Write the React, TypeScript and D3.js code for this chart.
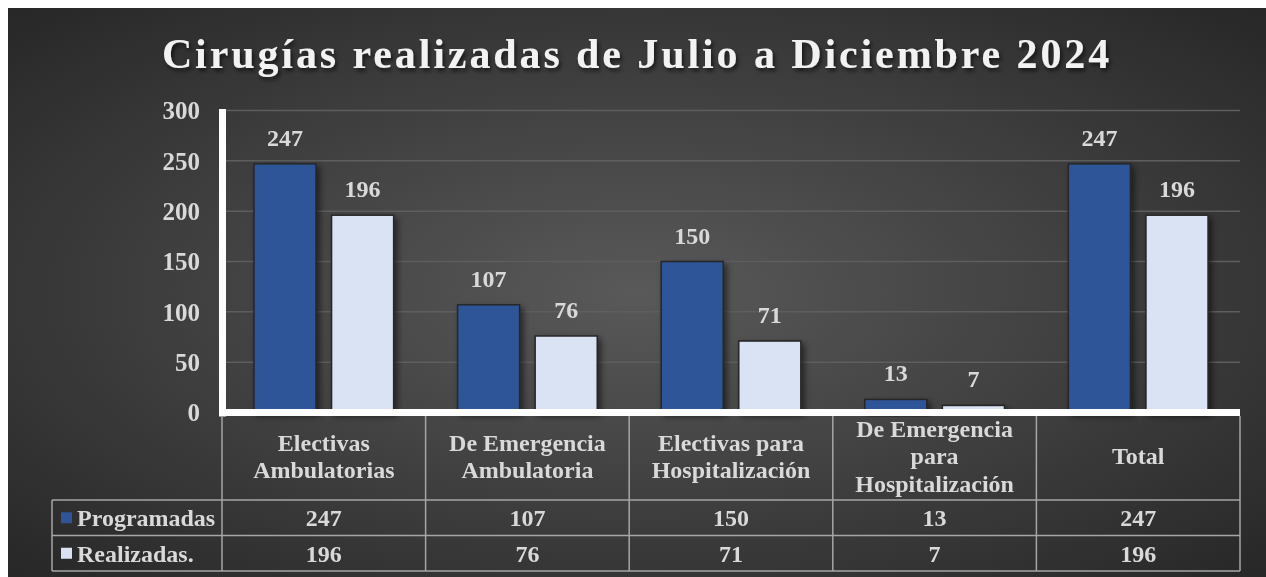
import * as d3 from 'd3';

const CATEGORIES = [
  ['Electivas', 'Ambulatorias'],
  ['De Emergencia', 'Ambulatoria'],
  ['Electivas para', 'Hospitalización'],
  ['De Emergencia', 'para', 'Hospitalización'],
  ['Total'],
];
const SERIES = ['Programadas', 'Realizadas.'];
const PROGRAMADAS = [247, 107, 150, 13, 247];
const REALIZADAS = [196, 76, 71, 7, 196];
const Y_TICKS = [0, 50, 100, 150, 200, 250, 300];
const COLORS = ['#2f5597', '#dae3f3'];

const W = 1258, H = 569;
const OX = 8, OY = 8; // page offset of svg (body margin)
const FONT = '"Liberation Serif", "Times New Roman", serif';
const TXT = '#d9d9d9';

export default function App() {
  const values = [PROGRAMADAS, REALIZADAS];
  const keys = CATEGORIES.map((_, i) => String(i));
  const x0 = d3.scaleBand().domain(keys).range([222 - OX, 1240 - OX]).padding(0);
  const bw = x0.bandwidth();
  const x1 = d3.scaleBand().domain(SERIES).range([bw * 0.157, bw * 0.843]).paddingInner(0.2);
  const y = d3.scaleLinear().domain([0, 300]).range([412.5 - OY, 110.5 - OY]);

  const plotL = 222 - OX, plotR = 1240 - OX;
  const tableTop = 416 - OY, hdrBottom = 500 - OY, row1Bottom = 535.5 - OY, tableBottom = 571 - OY;
  const legendL = 52 - OX;
  const rowsY = [[hdrBottom, row1Bottom], [row1Bottom, tableBottom]];
  const colEdges = [...keys.map(k => x0(k)!), plotR];

  return (
    <div style={{ position: 'fixed', left: OX, top: OY }}>
      <svg width={W} height={H} style={{ display: 'block', fontFamily: FONT }}>
        <defs>
          <radialGradient id="bg" cx="0.5" cy="0.5" r="0.72">
            <stop offset="0" stopColor="#595959" />
            <stop offset="1" stopColor="#262626" />
          </radialGradient>
          <filter id="sh" x="-20%" y="-20%" width="150%" height="150%">
            <feDropShadow dx="3" dy="3" stdDeviation="3" floodColor="#000" floodOpacity="0.55" />
          </filter>
          <filter id="tsh" x="-5%" y="-30%" width="110%" height="170%">
            <feDropShadow dx="2" dy="3" stdDeviation="2" floodColor="#000" floodOpacity="0.6" />
          </filter>
        </defs>
        <rect width={W} height={H} fill="url(#bg)" />

        <text x={637 - OX} y={68 - OY} textAnchor="middle" fill="#f2f2f2" fontSize={42}
          fontWeight="bold" letterSpacing={2.9} filter="url(#tsh)">
          Cirugías realizadas de Julio a Diciembre 2024
        </text>

        {/* gridlines */}
        {Y_TICKS.filter(t => t > 0).map(t => (
          <line key={t} x1={plotL} x2={plotR} y1={y(t)} y2={y(t)} stroke="#5e5e5e" strokeWidth={1.5} />
        ))}
        {Y_TICKS.map(t => (
          <text key={t} x={200 - OX} y={y(t)} dy="0.35em" textAnchor="end" fill={TXT}
            fontSize={25} fontWeight="bold">{t}</text>
        ))}

        {/* bars */}
        {keys.map((k, ci) => (
          <g key={k} transform={`translate(${x0(k)},0)`}>
            {SERIES.map((s, si) => {
              const v = values[si][ci];
              return (
                <g key={s}>
                  <rect x={x1(s)} y={y(v)} width={x1.bandwidth()} height={y(0) - y(v)}
                    fill={COLORS[si]} stroke="#262626" strokeWidth={1.5} filter="url(#sh)" />
                  <text x={x1(s)! + x1.bandwidth() / 2} y={y(v) - 18} textAnchor="middle"
                    fill={TXT} fontSize={24} fontWeight="bold">{v}</text>
                </g>
              );
            })}
          </g>
        ))}

        {/* axes */}
        <rect x={219 - OX} y={109 - OY} width={7} height={y(0) - (109 - OY) + 4} fill="#fff" />
        <rect x={219 - OX} y={409 - OY} width={plotR - (219 - OX)} height={7} fill="#fff" />

        {/* data table */}
        <g stroke="#a6a6a6" strokeWidth={1.5} fill="none">
          {colEdges.map((xe, i) => (
            <line key={i} x1={xe} x2={xe} y1={tableTop} y2={tableBottom} />
          ))}
          <line x1={legendL} x2={legendL} y1={hdrBottom} y2={tableBottom} />
          <line x1={legendL} x2={plotR} y1={hdrBottom} y2={hdrBottom} />
          <line x1={legendL} x2={plotR} y1={row1Bottom} y2={row1Bottom} />
          <line x1={legendL} x2={plotR} y1={tableBottom} y2={tableBottom} />
        </g>
        {CATEGORIES.map((lines, ci) => {
          const cx = x0(keys[ci])! + bw / 2;
          const cy = 456 - OY;
          const lh = 27.5;
          return (
            <text key={ci} textAnchor="middle" fill={TXT} fontSize={24} fontWeight="bold">
              {lines.map((l, li) => (
                <tspan key={li} x={cx} y={cy + (li - (lines.length - 1) / 2) * lh} dy="0.35em">{l}</tspan>
              ))}
            </text>
          );
        })}
        {SERIES.map((s, si) => {
          const [t, b] = rowsY[si];
          const cy = (t + b) / 2;
          return (
            <g key={s}>
              <rect x={61 - OX} y={cy - 5.5} width={11} height={11} fill={COLORS[si]} />
              <text x={77 - OX} y={cy} dy="0.35em" fill={TXT} fontSize={24} fontWeight="bold">{s}</text>
              {values[si].map((v, ci) => (
                <text key={ci} x={x0(keys[ci])! + bw / 2} y={cy} dy="0.35em" textAnchor="middle"
                  fill={TXT} fontSize={24} fontWeight="bold">{v}</text>
              ))}
            </g>
          );
        })}
      </svg>
    </div>
  );
}
